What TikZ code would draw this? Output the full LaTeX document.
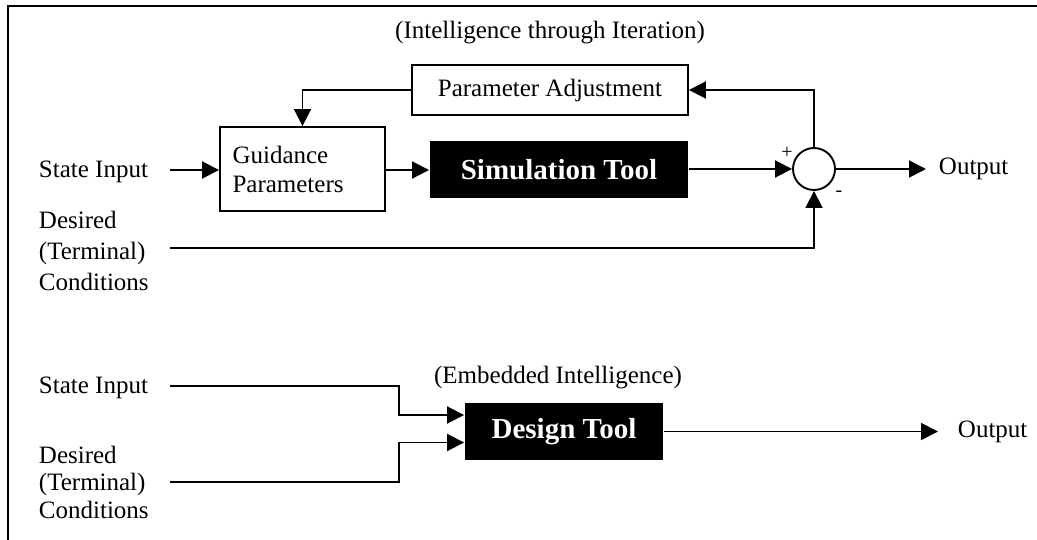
\documentclass[tikz,border=0pt]{standalone}
\usepackage{fontspec}
\setmainfont{Liberation Serif}
\usetikzlibrary{arrows.meta}

\begin{document}
\begin{tikzpicture}[x=1pt, y=-1pt, line width=1.9pt,
    >={Triangle[length=17pt,width=17pt]},
    font=\fontsize{25}{29}\selectfont,
    lbl/.style={inner sep=0pt, anchor=west, align=left},
    blk/.style={draw, inner sep=0pt},
    tool/.style={fill=black, text=white, inner sep=0pt,
        font=\fontsize{29}{31}\selectfont\bfseries}]
    \useasboundingbox (0,0) rectangle (1037,540);
    \draw (1037,6) -- (8,6) -- (8,540);

    % iteration loop
    \node (iter) at (550,33) {(Intelligence through Iteration)};
    \node[blk, minimum width=276pt, minimum height=50pt] (padj) at (550,90) {Parameter Adjustment};
    \node[blk, minimum width=165pt, minimum height=84pt, text width=140pt, align=left] (guid) at (302.5,169) {Guidance\\Parameters};
    \node[tool, minimum width=258pt, minimum height=57pt] (sim) at (559,169.5) {Simulation Tool};
    \node[draw, circle, minimum size=42pt, inner sep=0pt] (sum) at (814,169) {};
    \node[font=\fontsize{20}{22}\selectfont] (plus) at (787,153) {+};
    \node[font=\fontsize{20}{22}\selectfont] (minus) at (839,194) {-};
    \node[lbl] (si1) at (38,172) {State Input};
    \node[lbl, font=\fontsize{25}{31}\selectfont] (dc1) at (38,251) {Desired\\(Terminal)\\Conditions};
    \node[lbl, inner xsep=12pt] (out1) at (926,169) {Output};
    \coordinate (si1e) at (170,170);
    \coordinate (dc1e) at (170,248);

    \draw[->] (si1e) -- (guid.west |- si1e);
    \draw[->] (guid.east |- si1e) -- (sim.west |- si1e);
    \draw[->] (sim.east |- sum) -- (sum.west);
    \draw[->] (sum.east) -- (out1.west);
    \draw[->] (sum.north) |- (padj.east);
    \draw[->] (padj.west) -| (guid.north);
    \draw[->] (dc1e) -| (sum.south);

    % embedded
    \node (embd) at (558,378) {(Embedded Intelligence)};
    \node[tool, minimum width=198pt, minimum height=57pt] (dsgn) at (564,431.5) {Design Tool};
    \node[lbl] (si2) at (38,388) {State Input};
    \node[lbl, font=\fontsize{25}{27.5}\selectfont] (dc2) at (38,482) {Desired\\(Terminal)\\Conditions};
    \node[lbl, inner xsep=19pt] (out2) at (938,431.5) {Output};
    \coordinate (si2e) at (170,386);
    \coordinate (dc2e) at (170,482);
    \coordinate (bus) at (399,0);

    \draw[->] (si2e) -- (si2e -| bus) |- ([yshift=16.5pt]dsgn.west);
    \draw[->] (dc2e) -- (dc2e -| bus) |- ([yshift=-11pt]dsgn.west);
    \draw[->] (dsgn.east) -- (out2.west);
\end{tikzpicture}
\end{document}
